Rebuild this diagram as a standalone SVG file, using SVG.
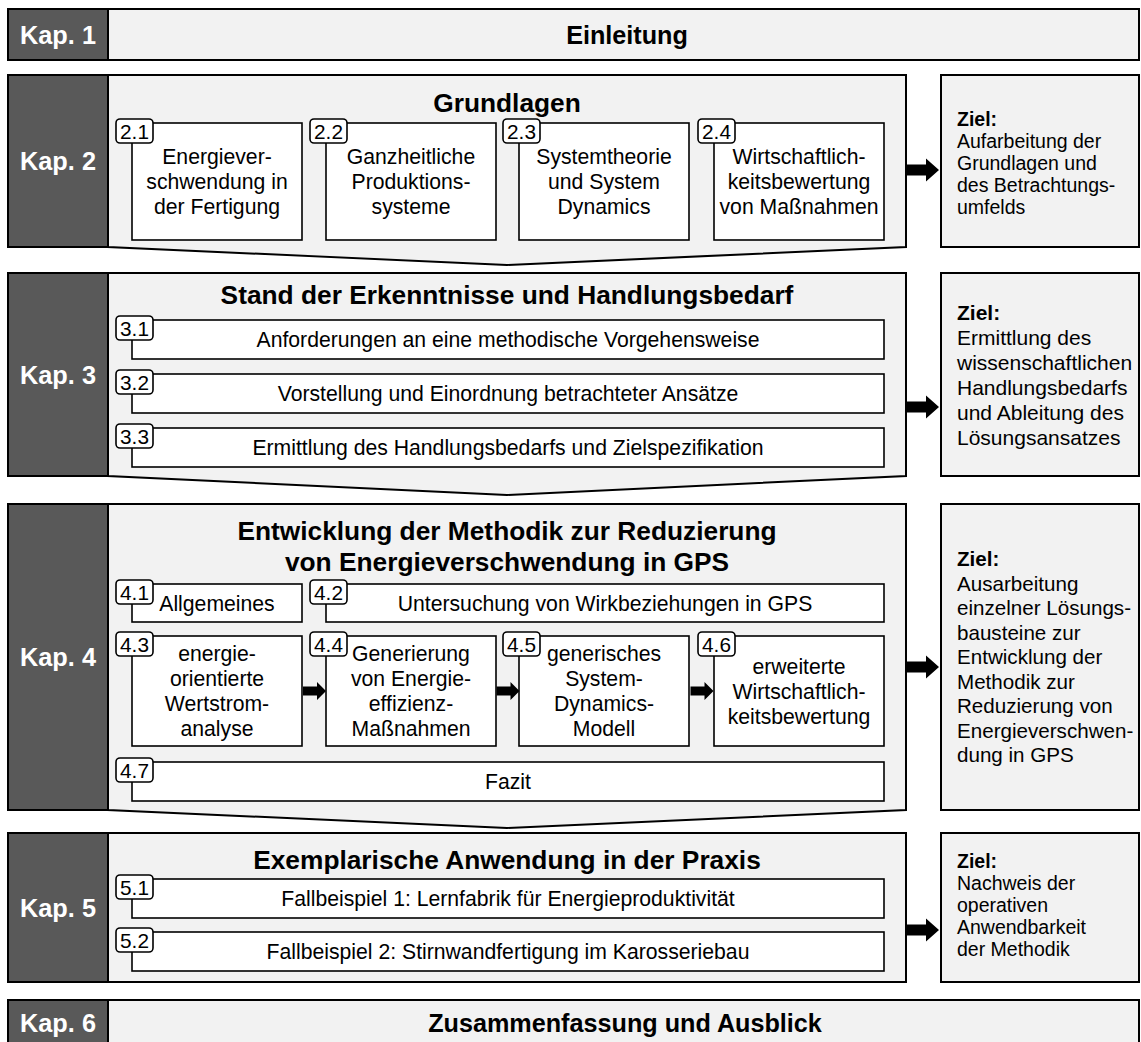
<svg xmlns="http://www.w3.org/2000/svg" width="1141" height="1042" viewBox="0 0 1141 1042">
<defs>
<style>
text{font-family:"Liberation Sans",Arial,Helvetica,sans-serif;fill:#000}
.dark{fill:#595959;stroke:#000;stroke-width:2}
.panel{fill:#f2f2f2;stroke:#000;stroke-width:2;stroke-linejoin:miter}
.ziel{fill:#f2f2f2;stroke:#000;stroke-width:2}
.sub{fill:#fff;stroke:#000;stroke-width:1.6}
.badge{fill:#fff;stroke:#000;stroke-width:1.6}
.kap{font-size:25.3px;font-weight:bold;fill:#fff;text-anchor:middle}
.title{font-size:26.3px;font-weight:bold;text-anchor:middle}
.title2{font-size:25.2px;font-weight:bold;text-anchor:middle}
.t{font-size:21.2px;text-anchor:middle}
.bt{font-size:20.8px;text-anchor:middle}
.z{font-size:19.5px}
.zb{font-size:19.5px;font-weight:bold}
.zl{font-size:21px}
.zlb{font-size:21px;font-weight:bold}
.zm{font-size:20.6px}
.zmb{font-size:20.6px;font-weight:bold}
.arrow{fill:#000;stroke:none}
</style>
<path id="bigArrow" d="M0,-5.5 H19 V-11.5 L32,0 L19,11.5 V5.5 H0 Z"/>
<path id="smallArrow" d="M0,-4.5 H14 V-9 L23,0 L14,9 V4.5 H0 Z"/>
</defs>
<rect width="1141" height="1042" fill="#fff"/>

<g id="kap1">
<rect class="dark" x="8" y="9" width="100" height="51"/>
<rect class="panel" x="108" y="9" width="1031" height="51"/>
<text class="kap" x="58" y="44">Kap. 1</text>
<text class="title2" x="627" y="44">Einleitung</text>
</g>

<g id="kap2">
<rect class="dark" x="8" y="75" width="100" height="172"/>
<path class="panel" d="M108,75 H906 V247 L507,265 L108,247 Z"/>
<text class="kap" x="58" y="170">Kap. 2</text>
<text class="title" x="507" y="112">Grundlagen</text>
</g>
<g id="n2_1">
<rect class="sub" x="132" y="123" width="170" height="117"/>
<rect class="badge" x="116" y="119" width="37" height="24" rx="4"/>
<text class="bt" x="134.5" y="138.5">2.1</text>
<text class="t" x="217" y="164">Energiever-</text>
<text class="t" x="217" y="189">schwendung in</text>
<text class="t" x="217" y="214">der Fertigung</text>
</g>
<g id="n2_2">
<rect class="sub" x="326" y="123" width="170" height="117"/>
<rect class="badge" x="310" y="119" width="37" height="24" rx="4"/>
<text class="bt" x="328.5" y="138.5">2.2</text>
<text class="t" x="411" y="164">Ganzheitliche</text>
<text class="t" x="411" y="189">Produktions-</text>
<text class="t" x="411" y="214">systeme</text>
</g>
<g id="n2_3">
<rect class="sub" x="519" y="123" width="170" height="117"/>
<rect class="badge" x="503" y="119" width="37" height="24" rx="4"/>
<text class="bt" x="521.5" y="138.5">2.3</text>
<text class="t" x="604" y="164">Systemtheorie</text>
<text class="t" x="604" y="189">und System</text>
<text class="t" x="604" y="214">Dynamics</text>
</g>
<g id="n2_4">
<rect class="sub" x="714" y="123" width="170" height="117"/>
<rect class="badge" x="698" y="119" width="37" height="24" rx="4"/>
<text class="bt" x="716.5" y="138.5">2.4</text>
<text class="t" x="799" y="164">Wirtschaftlich-</text>
<text class="t" x="799" y="189">keitsbewertung</text>
<text class="t" x="799" y="214">von Maßnahmen</text>
</g>
<g id="ziel2">
<rect class="ziel" x="941" y="75" width="198" height="172"/>
<text class="zb" x="957" y="126">Ziel:</text>
<text class="z" x="957" y="148">Aufarbeitung der</text>
<text class="z" x="957" y="170">Grundlagen und</text>
<text class="z" x="957" y="192">des Betrachtungs-</text>
<text class="z" x="957" y="214">umfelds</text>
</g>

<g id="kap3">
<rect class="dark" x="8" y="273" width="100" height="203"/>
<path class="panel" d="M108,273 H906 V476 L507,495 L108,476 Z"/>
<text class="kap" x="58" y="383.5">Kap. 3</text>
<text class="title" x="507" y="304">Stand der Erkenntnisse und Handlungsbedarf</text>
</g>
<g id="n3_1">
<rect class="sub" x="132" y="320" width="752" height="39"/>
<rect class="badge" x="116" y="316" width="37" height="24" rx="4"/>
<text class="bt" x="134.5" y="335.5">3.1</text>
<text class="t" x="508" y="347">Anforderungen an eine methodische Vorgehensweise</text>
</g>
<g id="n3_2">
<rect class="sub" x="132" y="374" width="752" height="39"/>
<rect class="badge" x="116" y="370" width="37" height="24" rx="4"/>
<text class="bt" x="134.5" y="389.5">3.2</text>
<text class="t" x="508" y="401">Vorstellung und Einordnung betrachteter Ansätze</text>
</g>
<g id="n3_3">
<rect class="sub" x="132" y="428" width="752" height="39"/>
<rect class="badge" x="116" y="424" width="37" height="24" rx="4"/>
<text class="bt" x="134.5" y="443.5">3.3</text>
<text class="t" x="508" y="455">Ermittlung des Handlungsbedarfs und Zielspezifikation</text>
</g>
<g id="ziel3">
<rect class="ziel" x="941" y="273" width="198" height="203"/>
<text class="zlb" x="957" y="320">Ziel:</text>
<text class="zl" x="957" y="345">Ermittlung des</text>
<text class="zl" x="957" y="370">wissenschaftlichen</text>
<text class="zl" x="957" y="395">Handlungsbedarfs</text>
<text class="zl" x="957" y="420">und Ableitung des</text>
<text class="zl" x="957" y="445">Lösungsansatzes</text>
</g>

<g id="kap4">
<rect class="dark" x="8" y="504" width="100" height="306"/>
<path class="panel" d="M108,504 H906 V810 L507,828 L108,810 Z"/>
<text class="kap" x="58" y="666">Kap. 4</text>
<text class="title" x="507" y="540">Entwicklung der Methodik zur Reduzierung</text>
<text class="title" x="507" y="571">von Energieverschwendung in GPS</text>
</g>
<g id="n4_1">
<rect class="sub" x="132" y="584" width="170" height="38"/>
<rect class="badge" x="116" y="580" width="37" height="24" rx="4"/>
<text class="bt" x="134.5" y="599.5">4.1</text>
<text class="t" x="217" y="610.5">Allgemeines</text>
</g>
<g id="n4_2">
<rect class="sub" x="326" y="584" width="558" height="38"/>
<rect class="badge" x="310" y="580" width="37" height="24" rx="4"/>
<text class="bt" x="328.5" y="599.5">4.2</text>
<text class="t" x="605" y="610.5">Untersuchung von Wirkbeziehungen in GPS</text>
</g>
<g id="n4_3">
<rect class="sub" x="132" y="636" width="170" height="110"/>
<rect class="badge" x="116" y="632" width="37" height="24" rx="4"/>
<text class="bt" x="134.5" y="651.5">4.3</text>
<text class="t" x="217" y="661">energie-</text>
<text class="t" x="217" y="686">orientierte</text>
<text class="t" x="217" y="711">Wertstrom-</text>
<text class="t" x="217" y="736">analyse</text>
</g>
<g id="n4_4">
<rect class="sub" x="326" y="636" width="170" height="110"/>
<rect class="badge" x="310" y="632" width="37" height="24" rx="4"/>
<text class="bt" x="328.5" y="651.5">4.4</text>
<text class="t" x="411" y="661">Generierung</text>
<text class="t" x="411" y="686">von Energie-</text>
<text class="t" x="411" y="711">effizienz-</text>
<text class="t" x="411" y="736">Maßnahmen</text>
</g>
<g id="n4_5">
<rect class="sub" x="519" y="636" width="170" height="110"/>
<rect class="badge" x="503" y="632" width="37" height="24" rx="4"/>
<text class="bt" x="521.5" y="651.5">4.5</text>
<text class="t" x="604" y="661">generisches</text>
<text class="t" x="604" y="686">System-</text>
<text class="t" x="604" y="711">Dynamics-</text>
<text class="t" x="604" y="736">Modell</text>
</g>
<g id="n4_6">
<rect class="sub" x="714" y="636" width="170" height="110"/>
<rect class="badge" x="698" y="632" width="37" height="24" rx="4"/>
<text class="bt" x="716.5" y="651.5">4.6</text>
<text class="t" x="799" y="673.5">erweiterte</text>
<text class="t" x="799" y="698.5">Wirtschaftlich-</text>
<text class="t" x="799" y="723.5">keitsbewertung</text>
</g>
<g id="n4_7">
<rect class="sub" x="132" y="762" width="752" height="39"/>
<rect class="badge" x="116" y="758" width="37" height="24" rx="4"/>
<text class="bt" x="134.5" y="777.5">4.7</text>
<text class="t" x="508" y="789">Fazit</text>
</g>
<g id="ziel4">
<rect class="ziel" x="941" y="504" width="198" height="306"/>
<text class="zmb" x="957" y="566">Ziel:</text>
<text class="zm" x="957" y="590.5">Ausarbeitung</text>
<text class="zm" x="957" y="615">einzelner Lösungs-</text>
<text class="zm" x="957" y="639.5">bausteine zur</text>
<text class="zm" x="957" y="664">Entwicklung der</text>
<text class="zm" x="957" y="688.5">Methodik zur</text>
<text class="zm" x="957" y="713">Reduzierung von</text>
<text class="zm" x="957" y="737.5">Energieverschwen-</text>
<text class="zm" x="957" y="762">dung in GPS</text>
</g>

<g id="kap5">
<rect class="dark" x="8" y="833" width="100" height="149"/>
<rect class="panel" x="108" y="833" width="798" height="149"/>
<text class="kap" x="58" y="916.5">Kap. 5</text>
<text class="title" x="507" y="869">Exemplarische Anwendung in der Praxis</text>
</g>
<g id="n5_1">
<rect class="sub" x="132" y="879" width="752" height="39"/>
<rect class="badge" x="116" y="875" width="37" height="24" rx="4"/>
<text class="bt" x="134.5" y="894.5">5.1</text>
<text class="t" x="508" y="906">Fallbeispiel 1: Lernfabrik für Energieproduktivität</text>
</g>
<g id="n5_2">
<rect class="sub" x="132" y="932" width="752" height="39"/>
<rect class="badge" x="116" y="928" width="37" height="24" rx="4"/>
<text class="bt" x="134.5" y="947.5">5.2</text>
<text class="t" x="508" y="959">Fallbeispiel 2: Stirnwandfertigung im Karosseriebau</text>
</g>
<g id="ziel5">
<rect class="ziel" x="941" y="833" width="198" height="149"/>
<text class="zb" x="957" y="868">Ziel:</text>
<text class="z" x="957" y="890">Nachweis der</text>
<text class="z" x="957" y="912">operativen</text>
<text class="z" x="957" y="934">Anwendbarkeit</text>
<text class="z" x="957" y="956">der Methodik</text>
</g>

<g id="kap6">
<rect class="dark" x="8" y="1000" width="100" height="51"/>
<rect class="panel" x="108" y="1000" width="1031" height="51"/>
<text class="kap" x="58" y="1032">Kap. 6</text>
<text class="title2" x="625" y="1032">Zusammenfassung und Ausblick</text>
</g>

<g id="connectors" class="arrow">
<use href="#bigArrow" transform="translate(907,170)"/>
<use href="#bigArrow" transform="translate(907,407)"/>
<use href="#bigArrow" transform="translate(907,667)"/>
<use href="#bigArrow" transform="translate(907,930)"/>
<use href="#smallArrow" transform="translate(303,691)"/>
<use href="#smallArrow" transform="translate(496.5,691)"/>
<use href="#smallArrow" transform="translate(690.5,691)"/>
</g>
</svg>
